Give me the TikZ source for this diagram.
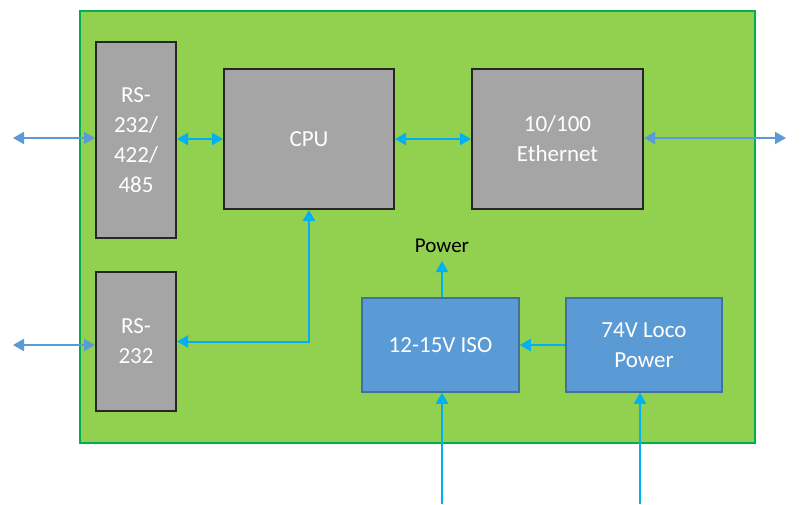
\documentclass[tikz,border=0pt]{standalone}
\usepackage{fontspec}
\setmainfont{Carlito}
\usetikzlibrary{arrows.meta}
\definecolor{boardfill}{HTML}{92D050}
\definecolor{boardline}{HTML}{00B050}
\definecolor{grayfill}{HTML}{A5A5A5}
\definecolor{grayline}{HTML}{262626}
\definecolor{bluefill}{HTML}{5B9BD5}
\definecolor{blueline}{HTML}{41719C}
\definecolor{cyanarr}{HTML}{00B0F0}
\definecolor{extarr}{HTML}{5B9BD5}
\begin{document}
\begin{tikzpicture}[x=1pt,y=-1pt,
  graybox/.style={draw=grayline,line width=2pt,fill=grayfill,text=white,align=center,inner sep=0pt,font=\fontsize{23}{30}\selectfont},
  bluebox/.style={draw=blueline,line width=1.5pt,fill=bluefill,text=white,align=center,inner sep=0pt,font=\fontsize{23}{30}\selectfont},
  tip/.style={Triangle[length=11pt,width=12pt]},
  arr/.style={draw=cyanarr,line width=2pt,-{Triangle[length=11pt,width=12pt]}},
  darr/.style={draw=cyanarr,line width=2pt,{Triangle[length=11pt,width=12pt]}-{Triangle[length=11pt,width=12pt]}},
  earr/.style={draw=extarr,line width=2pt,{Triangle[length=11pt,width=12pt]}-{Triangle[length=11pt,width=12pt]}}]
\useasboundingbox (0,0) rectangle (803,504);
\node[draw=boardline,line width=2.5pt,fill=boardfill,minimum width=675pt,minimum height=432pt,inner sep=0pt] (board) at (417.5,227) {};
\node[graybox,minimum width=80pt,minimum height=196pt] (rs485) at (136,140) {RS-\\232/\\422/\\485};
\node[graybox,minimum width=170pt,minimum height=140pt] (cpu) at (309,139) {CPU};
\node[graybox,minimum width=171pt,minimum height=140pt] (eth) at (557.5,139) {10/100\\Ethernet};
\node[graybox,minimum width=80pt,minimum height=139pt] (rs232) at (136,341.5) {RS-\\232};
\node[bluebox,minimum width=157pt,minimum height=94pt] (iso) at (440.5,345) {12-15V ISO};
\node[bluebox,minimum width=156pt,minimum height=94pt] (loco) at (644,345) {74V Loco\\Power};
\node[font=\fontsize{21}{24}\selectfont,inner sep=2pt] (pw) at (442,246) {Power};
\coordinate (e1) at (13,138);
\coordinate (e2) at (13,345);
\coordinate (e3) at (786,138);
\coordinate (b1) at (442,504);
\coordinate (b2) at (640,504);
\draw[earr] (e1) -- (e1 -| rs485.west);
\draw[earr] (e2) -- (e2 -| rs232.west);
\draw[earr] (eth.east |- e3) -- (e3);
\draw[darr] (rs485.east |- cpu.west) -- (cpu.west);
\draw[darr] (cpu.east) -- (eth.west);
\draw[darr] (cpu.south) |- (rs232.east);
\draw[arr] (iso.north -| pw.south) -- ([yshift=-6pt]pw.south);
\draw[arr] (loco.west) -- (iso.east);
\draw[arr] (b1) -- (b1 |- iso.south);
\draw[arr] (b2) -- (b2 |- loco.south);
\end{tikzpicture}
\end{document}
